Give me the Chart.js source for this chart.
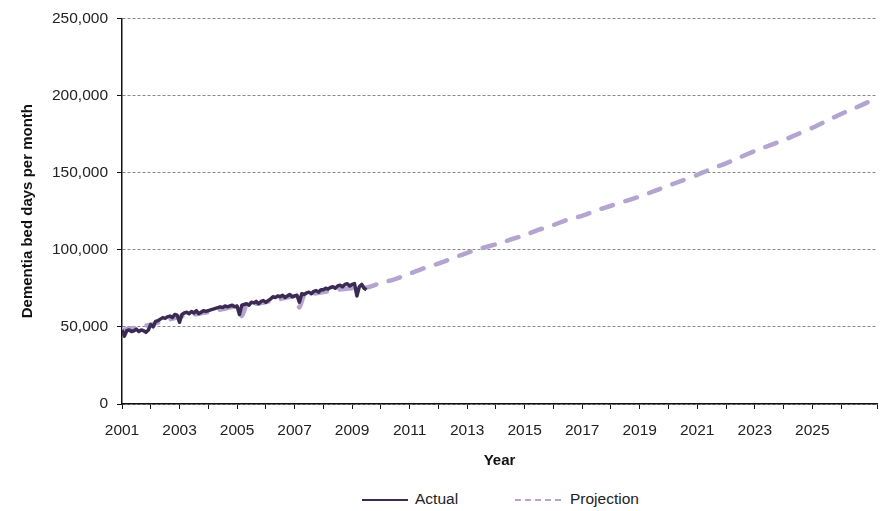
<!DOCTYPE html>
<html>
<head>
<meta charset="utf-8">
<script src="https://cdn.jsdelivr.net/npm/chart.js@4/dist/chart.umd.min.js"></script>
<style>
  html, body { margin: 0; padding: 0; background: #fff; }
  #wrap { width: 890px; height: 474px; }
  #legend { position: relative; width: 890px; height: 37px; font-family: "Liberation Sans", Arial, sans-serif; font-size: 15.5px; color: #222; }
  #legend .item { position: absolute; top: 16px; height: 18px; line-height: 18px; }
  #legend .swatch { position: absolute; top: 9px; height: 2px; }
  #legend .label { position: absolute; white-space: nowrap; }
</style>
</head>
<body>
<div id="wrap"><canvas id="chart"></canvas></div>
<div id="legend"></div>
<script>
// Actual monthly values, Jan 2001 onwards
const actualStartYear = 2001;
const actualValues = [
    48000, 44000, 47500, 48000, 47000, 47500, 48500, 47000, 48000, 47500, 46500, 48000,
    51500, 50000, 53500, 54000, 55000, 56000, 55500, 56500, 57000, 56000, 58000, 57500,
    53000, 58000, 59000, 59500, 58500, 60000, 59000, 60500, 58500, 59500, 60500, 60000,
    60500, 61000, 61500, 62000, 62500, 63000, 62500, 63500, 63000, 63500, 64000, 63000,
    63500, 58000, 64000, 64500, 65000, 64000, 66000, 65500, 66500, 65000, 66500, 67000,
    66000, 67000, 68000, 69500, 69000, 70000, 69500, 70500, 69000, 70000, 71000, 69500,
    70000, 70500, 66000, 71500, 71000, 72000, 72500, 71500, 73000, 73500, 72500, 74000,
    74000, 75000, 74500, 75500, 76000, 75000, 76500, 77000, 76000, 77500, 78000, 76500,
    77500, 78000, 70000, 76000, 77500, 75000, 74000
];

// Projection, read at the listed years
const projYears = [
    2001.0, 2001.5, 2002.0, 2002.5, 2003.0, 2003.5, 2004.0, 2004.5, 2005.0, 2005.17,
    2005.33, 2005.5, 2006.0, 2006.5, 2007.0, 2007.17, 2007.33, 2007.5, 2008.0, 2008.5,
    2009.0, 2009.5, 2010.0, 2010.5, 2011.0, 2011.5, 2012.0, 2012.5, 2013.0, 2013.5,
    2014.0, 2014.5, 2015.0, 2015.5, 2016.0, 2016.5, 2017.0, 2017.5, 2018.0, 2018.5,
    2019.0, 2019.5, 2020.0, 2020.5, 2021.0, 2021.5, 2022.0, 2022.5, 2023.0, 2023.5,
    2024.0, 2024.5, 2025.0, 2025.5, 2026.0, 2026.5, 2026.92
];
const projValues = [
    48000, 49500, 51500, 54000, 56500, 58000, 59500, 61500, 63000, 57000,
    64000, 64500, 66000, 68000, 69500, 62500, 70500, 71000, 72500, 74000,
    75000, 75500, 78500, 81000, 84500, 88000, 91000, 94500, 98000, 101000,
    103500, 106500, 109500, 113000, 116000, 119500, 122000, 125500, 128500, 131500,
    134500, 138000, 141500, 145000, 148500, 152500, 156000, 160000, 164000, 167500,
    171000, 175000, 179000, 183500, 188000, 192000, 195500
];

const yTicks = [0, 50000, 100000, 150000, 200000, 250000];

const FONT = '"Liberation Sans", Arial, Helvetica, sans-serif';

const actualPoints = actualValues.map((v, i) => ({ x: actualStartYear + i / 12, y: v }));
const projPoints = projValues.map((v, i) => ({ x: projYears[i], y: v }));

const chart = new Chart(document.getElementById('chart'), {
    type: 'line',
    data: {
        datasets: [{
            label: 'Actual',
            data: actualPoints,
            borderColor: '#3b2b52',
            backgroundColor: '#3b2b52',
            borderWidth: 3.5,
            pointRadius: 0,
            tension: 0,
            borderJoinStyle: 'round'
        }, {
            label: 'Projection',
            data: projPoints,
            borderColor: '#b3a4d0',
            backgroundColor: '#b3a4d0',
            borderWidth: 4.5,
            borderDash: [12, 13],
            borderCapStyle: 'round',
            pointRadius: 0,
            tension: 0.2
        }]
    },
    options: {
        responsive: true,
        maintainAspectRatio: false,
        animation: false,
        layout: { padding: { top: 10, right: 13, left: 0, bottom: 0 } },
        plugins: {
            tooltip: { enabled: false },
            legend: { display: false }
        },
        scales: {
            x: {
                type: 'linear',
                min: 2001,
                max: 2027.25,
                afterFit: s => { s.height = 70; },
                border: { color: '#111', width: 1.5 },
                grid: { drawOnChartArea: false, tickLength: 5, color: '#111' },
                ticks: {
                    stepSize: 1,
                    autoSkip: false,
                    maxRotation: 0,
                    padding: 12,
                    color: '#222',
                    font: { family: FONT, size: 15.5 },
                    callback: v => (Number.isInteger(v) && v % 2 === 1) ? String(v) : ''
                },
                title: {
                    display: true,
                    text: 'Year',
                    color: '#111',
                    font: { family: FONT, size: 15, weight: 'bold' },
                    padding: { top: 0, bottom: 4 }
                }
            },
            y: {
                min: 0,
                max: 250000,
                afterFit: s => { s.width = 122; },
                afterBuildTicks: s => { s.ticks = yTicks.map(v => ({ value: v })); },
                border: { color: '#111', width: 1.5, dash: [3, 2] },
                grid: {
                    color: '#888',
                    tickLength: 5,
                    tickColor: '#111',
                    tickBorderDash: []
                },
                ticks: {
                    padding: 9,
                    color: '#222',
                    font: { family: FONT, size: 15.5 },
                    callback: v => v.toLocaleString('en-US')
                },
                title: {
                    display: true,
                    text: 'Dementia bed days per month',
                    color: '#111',
                    font: { family: FONT, size: 15, weight: 'bold' },
                    padding: { top: 19, bottom: 0 }
                }
            }
        }
    }
});

// HTML legend below the canvas
const legendSpots = [{ line: 362, text: 415 }, { line: 515, text: 570 }];
const legendEl = document.getElementById('legend');
chart.data.datasets.forEach((ds, i) => {
    const item = document.createElement('div');
    item.className = 'item';
    const sw = document.createElement('div');
    sw.className = 'swatch';
    sw.style.left = legendSpots[i].line + 'px';
    sw.style.width = (legendSpots[i].text - legendSpots[i].line - 7) + 'px';
    sw.style.background = ds.borderDash
        ? 'repeating-linear-gradient(to right, ' + ds.borderColor + ' 0 6px, transparent 6px 10px)'
        : ds.borderColor;
    const lbl = document.createElement('span');
    lbl.className = 'label';
    lbl.style.left = legendSpots[i].text + 'px';
    lbl.textContent = ds.label;
    item.appendChild(sw);
    item.appendChild(lbl);
    legendEl.appendChild(item);
});
</script>
</body>
</html>
